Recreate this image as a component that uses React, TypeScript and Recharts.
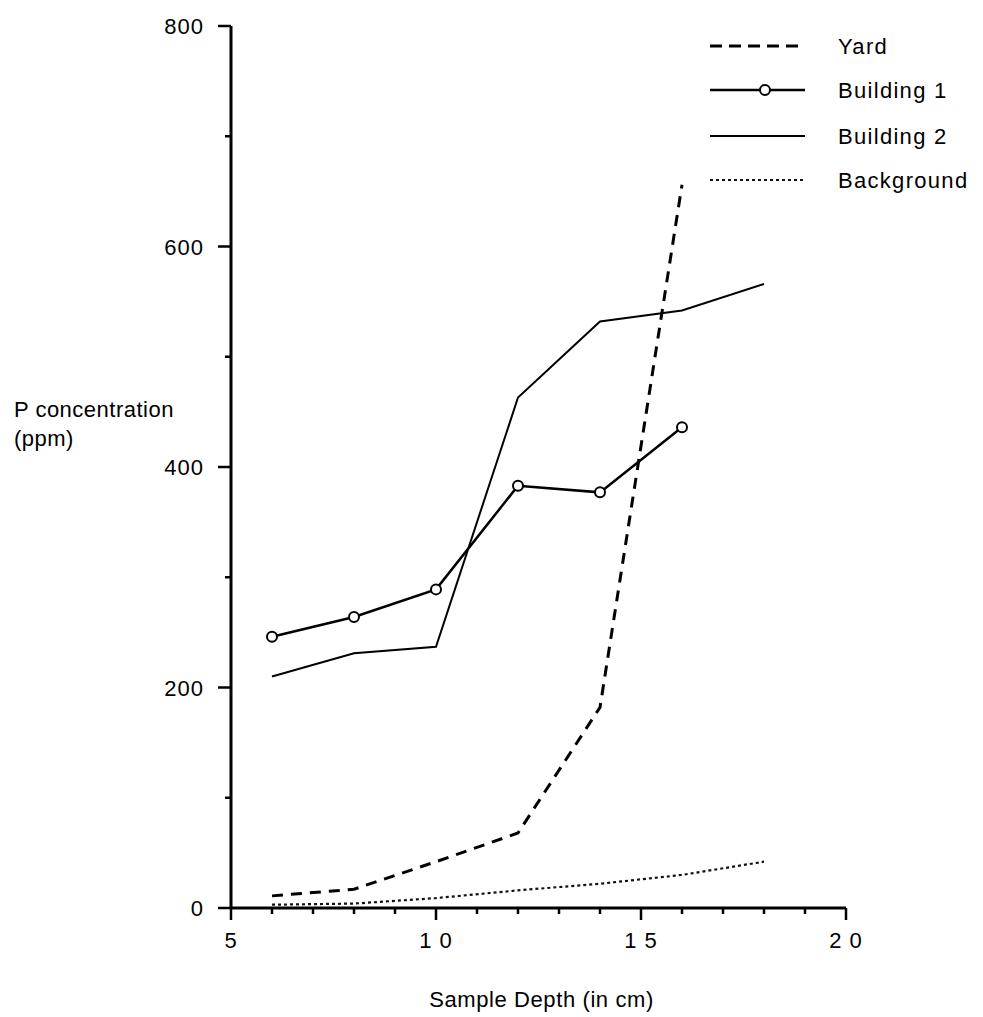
import React from 'react';
import { LineChart, Line, XAxis, YAxis, Legend } from 'recharts';

const depths = [6, 8, 10, 12, 14, 16, 18];
const yard = [11, 17, 42, 68, 182, 656, null];
const building1 = [246, 264, 289, 383, 377, 436, null];
const building2 = [210, 231, 237, 463, 532, 542, 566];
const background = [3, 4, 9, 16, 22, 30, 42];

const xTicks = [5, 6, 7, 8, 9, 10, 11, 12, 13, 14, 15, 16, 17, 18, 19, 20];
const xMajor = [5, 10, 15, 20];
const xTickLabels: Record<number, string> = { 5: '5', 10: '1 0', 15: '1 5', 20: '2 0' };
const yTicks = [0, 100, 200, 300, 400, 500, 600, 700, 800];
const yMajor = [0, 200, 400, 600, 800];

const seriesNames = ['Yard', 'Building 1', 'Building 2', 'Background'];
const xTitle = 'Sample Depth (in cm)';
const yTitle = ['P concentration', '(ppm)'];

const data = depths.map((d, i) => ({
  depth: d,
  yard: yard[i],
  building1: building1[i],
  building2: building2[i],
  background: background[i],
}));

const FONT = "'Liberation Sans', Arial, Helvetica, sans-serif";

const XTick = (props: any) => {
  const { x, y, payload } = props;
  const major = xMajor.includes(payload.value);
  return (
    <g>
      <line x1={x} x2={x} y1={y} y2={y + (major ? 12 : 6)} stroke="#000" strokeWidth={2.5} />
      {major && (
        <text x={x} y={y + 40} textAnchor="middle" fontSize={22} fontFamily={FONT} fill="#000" letterSpacing={1}>
          {xTickLabels[payload.value]}
        </text>
      )}
    </g>
  );
};

const YTick = (props: any) => {
  const { x, y, payload } = props;
  const major = yMajor.includes(payload.value);
  return (
    <g>
      <line x1={x} x2={x - (major ? 13 : 6)} y1={y} y2={y} stroke="#000" strokeWidth={2.5} />
      {major && (
        <text x={x - 27} y={y + 8} textAnchor="end" fontSize={22} fontFamily={FONT} fill="#000" letterSpacing={1}>
          {payload.value}
        </text>
      )}
    </g>
  );
};

const LegendContent = () => {
  const rows = [18, 62, 108, 152];
  return (
    <svg width={285} height={170} style={{ display: 'block' }}>
      <line x1={7} x2={102} y1={rows[0]} y2={rows[0]} stroke="#000" strokeWidth={3} strokeDasharray="12 7" />
      <line x1={7} x2={102} y1={rows[1]} y2={rows[1]} stroke="#000" strokeWidth={2.5} />
      <circle cx={62} cy={rows[1]} r={5} fill="#fff" stroke="#000" strokeWidth={2} />
      <line x1={7} x2={102} y1={rows[2]} y2={rows[2]} stroke="#000" strokeWidth={1.8} />
      <line x1={7} x2={102} y1={rows[3]} y2={rows[3]} stroke="#111" strokeWidth={2.2} strokeDasharray="3 3" />
      {seriesNames.map((n, i) => (
        <text key={n} x={135} y={rows[i] + 8} fontSize={22} fontFamily={FONT} fill="#000" letterSpacing={1.3}>
          {n}
        </text>
      ))}
    </svg>
  );
};

export default function App() {
  return (
    <div style={{ width: 975, height: 1009 }}>
      <LineChart
        width={975}
        height={1009}
        data={data}
        margin={{ top: 18, right: 137, bottom: 49, left: 163 }}
      >
        <XAxis
          dataKey="depth"
          type="number"
          domain={[5, 20]}
          ticks={xTicks}
          interval={0}
          height={60}
          tickSize={0}
          tickMargin={0}
          tickLine={false}
          tick={<XTick />}
          axisLine={{ stroke: '#000', strokeWidth: 3 }}
          label={{
            content: (p: any) => {
              const vb = p.viewBox || { x: 223, y: 900, width: 615, height: 60 };
              return (
                <text
                  x={vb.x + vb.width / 2 + 3}
                  y={999}
                  textAnchor="middle"
                  fontSize={22}
                  fontFamily={FONT}
                  fill="#000"
                  letterSpacing={0.6}
                >
                  {xTitle}
                </text>
              );
            },
          }}
        />
        <YAxis
          type="number"
          domain={[0, 800]}
          ticks={yTicks}
          interval={0}
          width={60}
          tickSize={0}
          tickMargin={0}
          tickLine={false}
          tick={<YTick />}
          axisLine={{ stroke: '#000', strokeWidth: 3 }}
          label={{
            content: () => (
              <text fontSize={22} fontFamily={FONT} fill="#000" letterSpacing={0.5}>
                <tspan x={6} y={409}>{yTitle[0]}</tspan>
                <tspan x={6} y={438}>{yTitle[1]}</tspan>
              </text>
            ),
          }}
        />
        <Legend
          layout="vertical"
          align="center"
          verticalAlign="middle"
          wrapperStyle={{ left: 695, top: 20, width: 285 }}
          content={<LegendContent />}
        />
        <Line
          dataKey="yard"
          name="Yard"
          type="linear"
          stroke="#000"
          strokeWidth={3}
          strokeDasharray="11 8"
          dot={false}
          isAnimationActive={false}
        />
        <Line
          dataKey="building1"
          name="Building 1"
          type="linear"
          stroke="#000"
          strokeWidth={2.5}
          dot={{ r: 5, fill: '#fff', stroke: '#000', strokeWidth: 2 }}
          isAnimationActive={false}
        />
        <Line
          dataKey="building2"
          name="Building 2"
          type="linear"
          stroke="#000"
          strokeWidth={2}
          dot={false}
          isAnimationActive={false}
        />
        <Line
          dataKey="background"
          name="Background"
          type="linear"
          stroke="#111"
          strokeWidth={2.2}
          strokeDasharray="3 3"
          dot={false}
          isAnimationActive={false}
        />
      </LineChart>
    </div>
  );
}
